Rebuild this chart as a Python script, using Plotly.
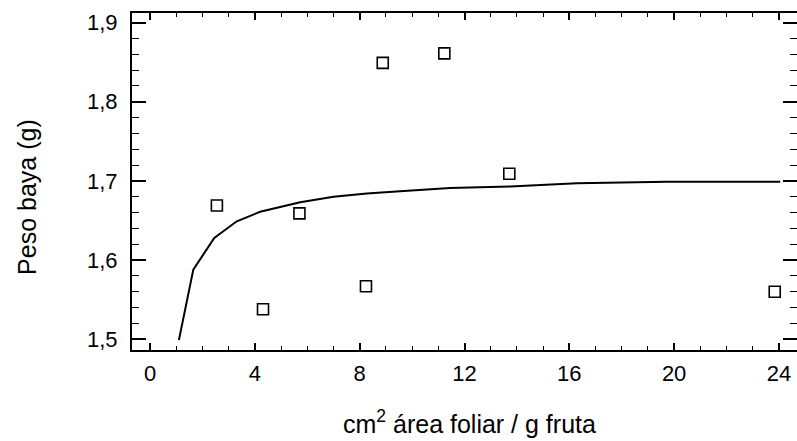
import plotly.graph_objects as go

# Observed data (squares)
obs_x = [2.55, 4.31, 5.70, 8.24, 8.88, 11.23, 13.71, 23.84]
obs_y = [1.669, 1.538, 1.659, 1.567, 1.849, 1.861, 1.709, 1.560]

# Fitted curve
fit_x = [1.10, 1.65, 2.45, 3.31, 4.20, 5.73, 7.00, 8.27, 9.54, 11.45, 13.74, 16.29, 19.72, 24.05]
fit_y = [1.499, 1.588, 1.628, 1.649, 1.661, 1.673, 1.680, 1.684, 1.687, 1.691, 1.693, 1.697, 1.699, 1.699]

x_ticks = [0, 4, 8, 12, 16, 20, 24]
y_ticks = [1.5, 1.6, 1.7, 1.8, 1.9]
y_tick_text = ["1,5", "1,6", "1,7", "1,8", "1,9"]

x_title = "cm<sup>2</sup> área foliar / g fruta"
y_title = "Peso baya (g)"

FONT = "Liberation Sans, Arial, Helvetica, sans-serif"

fig = go.Figure()
fig.add_trace(go.Scatter(x=fit_x, y=fit_y, mode="lines",
                         line=dict(color="black", width=2), showlegend=False))
fig.add_trace(go.Scatter(x=obs_x, y=obs_y, mode="markers",
                         marker=dict(symbol="square-open", size=11, color="black",
                                     line=dict(width=1.6, color="black")),
                         showlegend=False))

fig.update_layout(
    width=797, height=441,
    margin=dict(l=132, r=0, t=13, b=91, autoexpand=False),
    paper_bgcolor="white", plot_bgcolor="white",
    separators=", ",
    font=dict(family=FONT, size=22, color="black"),
    xaxis=dict(
        range=[-0.69, 24.69], tickvals=x_ticks, ticktext=[str(v) for v in x_ticks],
        ticks="inside", ticklen=7, tickwidth=1.5, tickcolor="black",
        showline=True, linecolor="black", linewidth=2, mirror="ticks",
        showgrid=False, zeroline=False, automargin=False,
        minor=dict(dtick=1, tick0=0, ticks="inside", ticklen=4, tickwidth=1.2, tickcolor="black", showgrid=False),
        ticklabelstandoff=3,
        tickfont=dict(size=22),
    ),
    yaxis=dict(
        range=[1.4865, 1.912], tickvals=y_ticks, ticktext=y_tick_text,
        ticks="inside", ticklen=14, tickwidth=1.5, tickcolor="black",
        showline=True, linecolor="black", linewidth=2, mirror="ticks",
        showgrid=False, zeroline=False, automargin=False,
        minor=dict(dtick=0.02, tick0=1.5, ticks="inside", ticklen=7, tickwidth=1.2, tickcolor="black", showgrid=False),
        ticklabelstandoff=8,
        tickfont=dict(size=22),
    ),
    annotations=[
        dict(text=x_title, xref="paper", yref="paper", x=0.5068, y=-0.215,
             xanchor="center", yanchor="middle", showarrow=False, font=dict(size=25)),
        dict(text=y_title, xref="paper", yref="paper", x=-0.158, y=0.454,
             xanchor="center", yanchor="middle", showarrow=False, textangle=-90,
             font=dict(size=25)),
    ],
)

fig.write_html("out.html", config={"displayModeBar": False},
               post_script="document.body.style.margin='0';document.body.style.overflow='hidden';")
